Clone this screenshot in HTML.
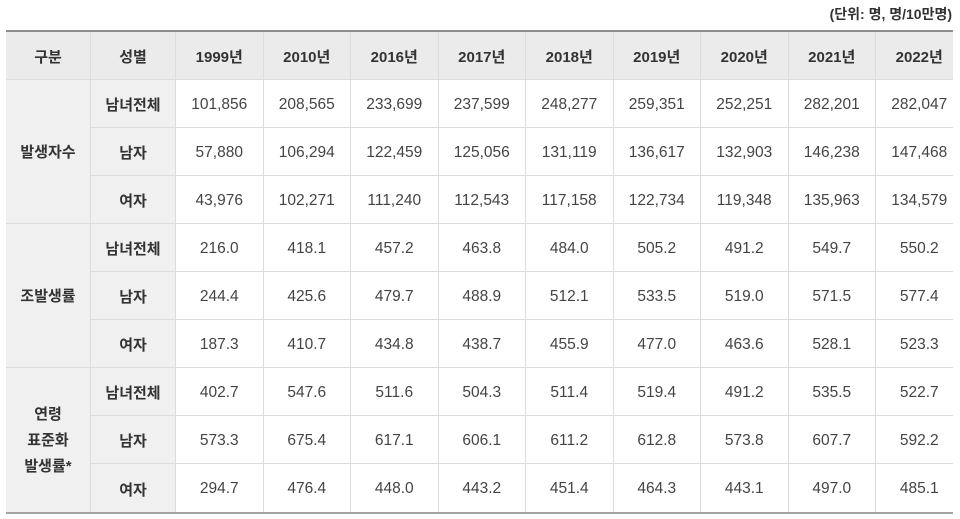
<!DOCTYPE html>
<html>
<head>
<meta charset="utf-8">
<style>
  html, body { margin:0; padding:0; background:#fff; }
  body { width:960px; height:519px; position:relative; overflow:hidden;
         font-family:"Liberation Sans","Noto Sans CJK KR","NanumGothic",sans-serif; color:#333; }
  .unit { position:absolute; right:8px; top:5px; font-size:14px; font-weight:bold; color:#333; line-height:18px; }
  .wrap { position:absolute; left:6px; top:30px; width:947px; height:484px; overflow:hidden;
          border-top:2px solid #8c8c8c; border-bottom:2px solid #a5a5a5; box-sizing:border-box; }
  .grid { display:grid; grid-template-columns:85px 85px repeat(9, 87.5px);
          grid-template-rows:repeat(10, 48px); width:957.5px; }
  .c { box-sizing:border-box; border-right:1px solid #dcdcdc; border-bottom:1px solid #dcdcdc;
       display:flex; align-items:center; justify-content:center; text-align:center;
       font-size:15.5px; color:#444; padding-top:2px; }
  .h { background:#ebebeb; font-weight:bold; color:#333; font-size:15px; }
  .l { background:#f0f0f0; font-weight:bold; color:#333; font-size:15px; }
  .g { grid-row:span 3; line-height:26px; }
  .last { border-bottom:none; }
</style>
</head>
<body>
<div class="unit">(단위: 명, 명/10만명)</div>
<div class="wrap">
<div class="grid">
  <div class="c h">구분</div><div class="c h">성별</div>
  <div class="c h">1999년</div><div class="c h">2010년</div><div class="c h">2016년</div><div class="c h">2017년</div><div class="c h">2018년</div><div class="c h">2019년</div><div class="c h">2020년</div><div class="c h">2021년</div><div class="c h">2022년</div>

  <div class="c l g" style="grid-row:2 / span 3; grid-column:1;">발생자수</div>
  <div class="c l">남녀전체</div>
  <div class="c">101,856</div><div class="c">208,565</div><div class="c">233,699</div><div class="c">237,599</div><div class="c">248,277</div><div class="c">259,351</div><div class="c">252,251</div><div class="c">282,201</div><div class="c">282,047</div>
  <div class="c l">남자</div>
  <div class="c">57,880</div><div class="c">106,294</div><div class="c">122,459</div><div class="c">125,056</div><div class="c">131,119</div><div class="c">136,617</div><div class="c">132,903</div><div class="c">146,238</div><div class="c">147,468</div>
  <div class="c l">여자</div>
  <div class="c">43,976</div><div class="c">102,271</div><div class="c">111,240</div><div class="c">112,543</div><div class="c">117,158</div><div class="c">122,734</div><div class="c">119,348</div><div class="c">135,963</div><div class="c">134,579</div>

  <div class="c l g" style="grid-row:5 / span 3; grid-column:1;">조발생률</div>
  <div class="c l">남녀전체</div>
  <div class="c">216.0</div><div class="c">418.1</div><div class="c">457.2</div><div class="c">463.8</div><div class="c">484.0</div><div class="c">505.2</div><div class="c">491.2</div><div class="c">549.7</div><div class="c">550.2</div>
  <div class="c l">남자</div>
  <div class="c">244.4</div><div class="c">425.6</div><div class="c">479.7</div><div class="c">488.9</div><div class="c">512.1</div><div class="c">533.5</div><div class="c">519.0</div><div class="c">571.5</div><div class="c">577.4</div>
  <div class="c l">여자</div>
  <div class="c">187.3</div><div class="c">410.7</div><div class="c">434.8</div><div class="c">438.7</div><div class="c">455.9</div><div class="c">477.0</div><div class="c">463.6</div><div class="c">528.1</div><div class="c">523.3</div>

  <div class="c l g last" style="grid-row:8 / span 3; grid-column:1;">연령<br>표준화<br>발생률*</div>
  <div class="c l">남녀전체</div>
  <div class="c">402.7</div><div class="c">547.6</div><div class="c">511.6</div><div class="c">504.3</div><div class="c">511.4</div><div class="c">519.4</div><div class="c">491.2</div><div class="c">535.5</div><div class="c">522.7</div>
  <div class="c l">남자</div>
  <div class="c">573.3</div><div class="c">675.4</div><div class="c">617.1</div><div class="c">606.1</div><div class="c">611.2</div><div class="c">612.8</div><div class="c">573.8</div><div class="c">607.7</div><div class="c">592.2</div>
  <div class="c l last">여자</div>
  <div class="c last">294.7</div><div class="c last">476.4</div><div class="c last">448.0</div><div class="c last">443.2</div><div class="c last">451.4</div><div class="c last">464.3</div><div class="c last">443.1</div><div class="c last">497.0</div><div class="c last">485.1</div>
</div>
</div>
</body>
</html>
